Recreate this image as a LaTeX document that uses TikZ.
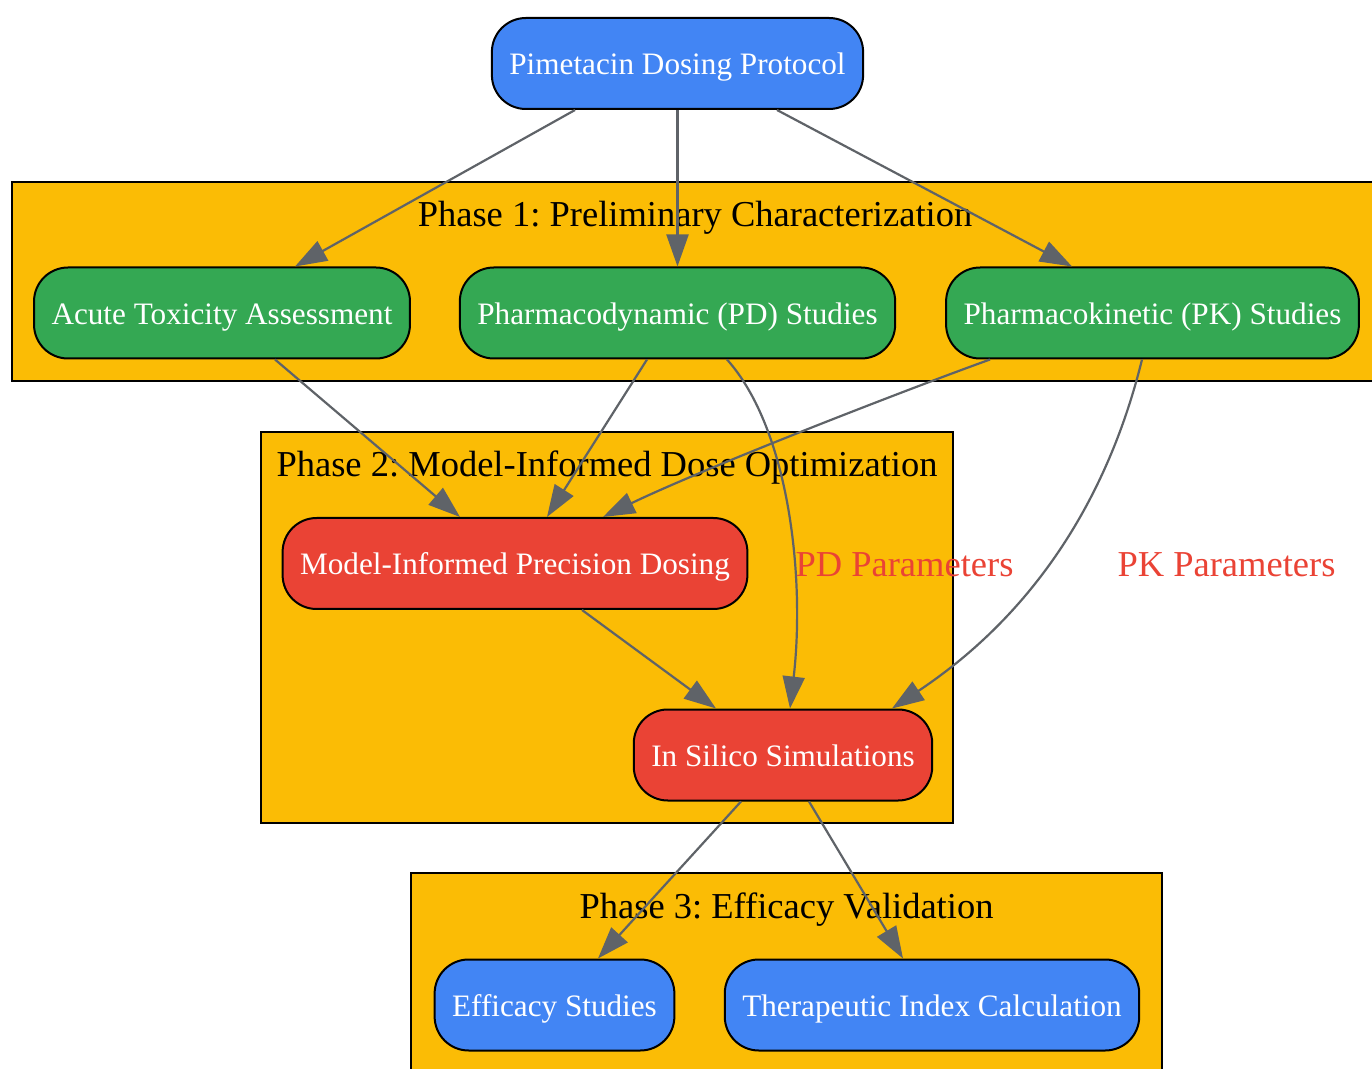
\documentclass[tikz,border=0pt]{standalone}
\usepackage{fontspec}
\setmainfont{Liberation Serif}
\usetikzlibrary{arrows.meta}
\definecolor{proto_blue}{HTML}{4285F4}
\definecolor{phase_green}{HTML}{34A853}
\definecolor{phase_red}{HTML}{EA4335}
\definecolor{phase_yellow}{HTML}{FBBC05}
\definecolor{edge_gray}{HTML}{5F6368}
\frenchspacing

\begin{document}
\begin{tikzpicture}[x=0.5pt, y=-0.5pt,
        etape/.style={draw=black, line width=1pt, rounded corners=17pt, text=white,
            font=\fontsize{15.6}{18}\selectfont, minimum height=45.5pt, inner xsep=8.75pt,
            text height=13.3pt, text depth=1.9pt},
        cadre/.style={draw=black, line width=1pt, fill=phase_yellow},
        titre/.style={anchor=base, font=\fontsize{18.25}{21}\selectfont},
        lien/.style={draw=edge_gray, line width=1.1pt, -{Triangle[length=16pt,width=11pt]}},
        param/.style={anchor=base, text=phase_red, font=\fontsize{18.25}{21}\selectfont}]
        % Cadre de l'image
        \path[use as bounding box] (0,0) rectangle (1372,1069);
        \clip (0,0) rectangle (1372,1069);

        % Phases
        \draw[cadre] (12,182) rectangle (1385,381);
        \draw[cadre] (261,432) rectangle (953,823);
        \draw[cadre] (411,873) rectangle (1162,1085);
        \node[titre] (titre1) at (695,227) {Phase 1: Preliminary Characterization};
        \node[titre] (titre2) at (607,477) {Phase 2: Model-Informed Dose Optimization};
        \node[titre] (titre3) at (786.5,918) {Phase 3: Efficacy Validation};

        % Protocole
        \node[etape, fill=proto_blue] (protocol) at (677.5,63.5) {Pimetacin Dosing Protocol};
        % Phase 1
        \node[etape, fill=phase_green] (acute) at (222,313) {Acute Toxicity Assessment};
        \node[etape, fill=phase_green] (pd) at (677.5,313) {Pharmacodynamic (PD) Studies};
        \node[etape, fill=phase_green] (pk) at (1152.5,313) {Pharmacokinetic (PK) Studies};
        % Phase 2
        \node[etape, fill=phase_red] (mipd) at (515,563.5) {Model-Informed Precision Dosing};
        \node[etape, fill=phase_red] (silico) at (783,755) {In Silico Simulations};
        % Phase 3
        \node[etape, fill=proto_blue] (efficacy) at (554.5,1005) {Efficacy Studies};
        \node[etape, fill=proto_blue] (index) at (932,1005) {Therapeutic Index Calculation};

        % Liens
        \draw[lien] ([xshift=-51.25pt]protocol.south) -- ([xshift=36.5pt]acute.north);
        \draw[lien] (protocol.south) -- (pd.north);
        \draw[lien] ([xshift=49.75pt]protocol.south) -- ([xshift=-40.25pt]pk.north);
        \draw[lien] ([xshift=26.5pt]acute.south) -- ([xshift=-27.5pt]mipd.north);
        \draw[lien] ([xshift=-15.25pt]pd.south) -- ([xshift=16pt]mipd.north);
        \draw[lien] ([xshift=-81.25pt]pk.south) .. controls (900,392) and (700,470) .. ([xshift=44pt]mipd.north);
        \draw[lien] ([xshift=24.75pt]pd.south) .. controls (790,430) and (805,580) .. ([xshift=3.5pt]silico.north);
        \draw[lien] ([xshift=-5.25pt]pk.south) .. controls (1110,490) and (1040,610) .. ([xshift=54.5pt]silico.north);
        \draw[lien] ([xshift=33.5pt]mipd.south) -- ([xshift=-33.5pt]silico.north);
        \draw[lien] ([xshift=-21pt]silico.south) -- ([xshift=21.75pt]efficacy.north);
        \draw[lien] ([xshift=13pt]silico.south) -- ([xshift=-14.5pt]index.north);

        % Parametres
        \node[param] (pdparam) at (904.5,577) {PD Parameters};
        \node[param] (pkparam) at (1226.5,577) {PK Parameters};
    \end{tikzpicture}
\end{document}
